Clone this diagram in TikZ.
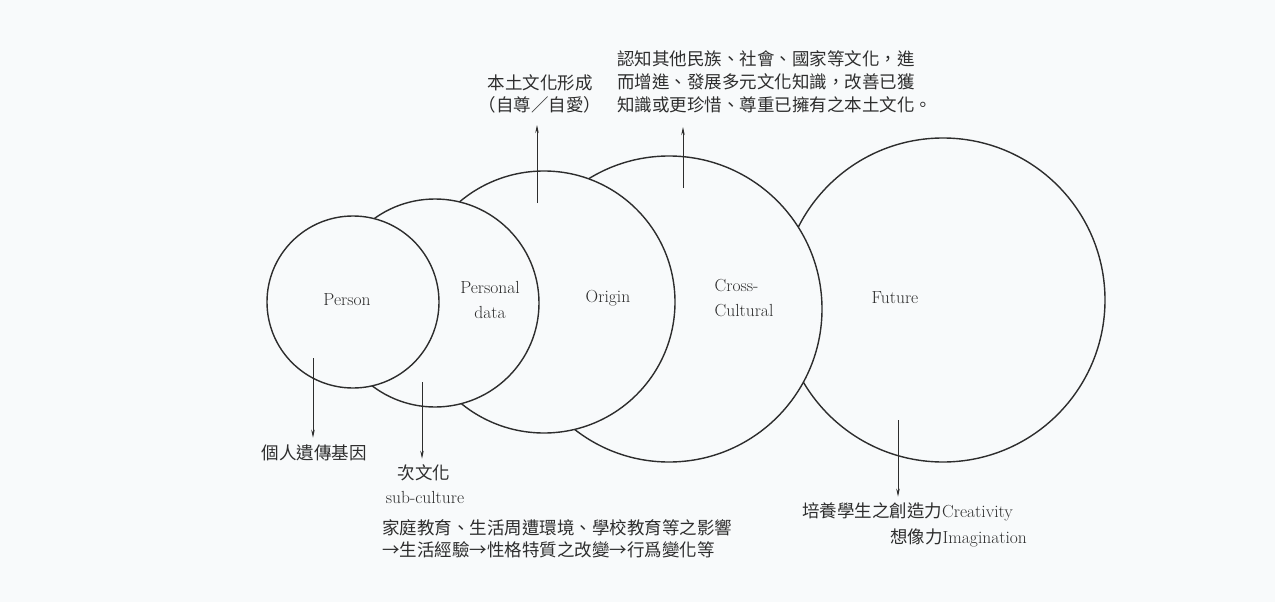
\documentclass[tikz,border=0pt]{standalone}
\usepackage{fontspec}
\newfontfamily\cjk{Noto Sans CJK TC}
\usetikzlibrary{arrows.meta}
\definecolor{bg}{RGB}{248,250,251}
\definecolor{ink}{RGB}{45,45,45}
\begin{document}
\begin{tikzpicture}[x=1pt,y=-1pt,
  ring/.style={circle,draw=ink,line width=1.4pt,fill=bg,inner sep=0pt,minimum size=#1},
  lbl/.style={font=\fontsize{17.5}{25}\selectfont,text=ink,inner sep=0pt},
  zh/.style={font=\cjk\fontsize{17.5}{22}\selectfont,text=ink,inner sep=0pt,align=left},
  en/.style={font=\fontsize{17.5}{22}\selectfont,text=ink,inner sep=0pt},
  arr/.style={draw=ink,line width=0.8pt,-{Stealth[length=8pt,width=3.5pt]}}]
\fill[bg] (0,0) rectangle (1275,602);
\useasboundingbox (0,0) rectangle (1275,602);

% circles, right to left so that the left ones lie on top
\node[ring=324pt] (c5) at (943,300) {};
\node[ring=306pt] (c4) at (669,309) {};
\node[ring=262pt] (c3) at (544,302) {};
\node[ring=208pt] (c2) at (435,303) {};
\node[ring=172pt] (c1) at (353,302) {};

% circle labels
\node[lbl] (lp) at (347,300) {Person};
\node[lbl,align=center] (lpd) at (490,300) {Personal\\data};
\node[lbl] (lo) at (608,298) {Origin};
\node[lbl,align=left] (lc) at (744,298) {Cross-\\Cultural};
\node[lbl] (lf) at (895,298) {Future};

% texts
\node[zh] (t1) at (314,453) {個人遺傳基因};
\node[zh] (t2a) at (424,473) {次文化};
\node[en] (t2b) at (425,497) {sub-culture};
\node[zh,anchor=west] (t2c) at (382,538.5) {家庭教育、生活周遭環境、學校教育等之影響\\→生活經驗→性格特質之改變→行爲變化等};
\node[zh,align=center] (t3) at (540,94) {本土文化形成\\（自尊／自愛）};
\node[zh,anchor=west,font=\cjk\fontsize{17.5}{23}\selectfont] (t4) at (617,82) {認知其他民族、社會、國家等文化，進\\而增進、發展多元文化知識，改善已獲\\知識或更珍惜、尊重已擁有之本土文化。};
\node[en,anchor=west] (t5a) at (802,512) {{\cjk 培養學生之創造力}Creativity};
\node[en,anchor=west] (t5b) at (890,538) {{\cjk 想像力}Imagination};

% arrows
\coordinate (a1s) at (313,358);
\coordinate (a2s) at (422,382);
\coordinate (a3s) at (537,203);
\coordinate (a3e) at (537,125);
\coordinate (a4s) at (683,188);
\coordinate (a4e) at (683,127);
\coordinate (a5s) at (898,420);
\draw[arr] (a1s) -- ([yshift=7pt]a1s |- t1.north);
\draw[arr] (a2s) -- ([yshift=6pt]a2s |- t2a.north);
\draw[arr] (a3s) -- (a3e);
\draw[arr] (a4s) -- (a4e);
\draw[arr] (a5s) -- ([yshift=6pt]a5s |- t5a.north);
\end{tikzpicture}
\end{document}
